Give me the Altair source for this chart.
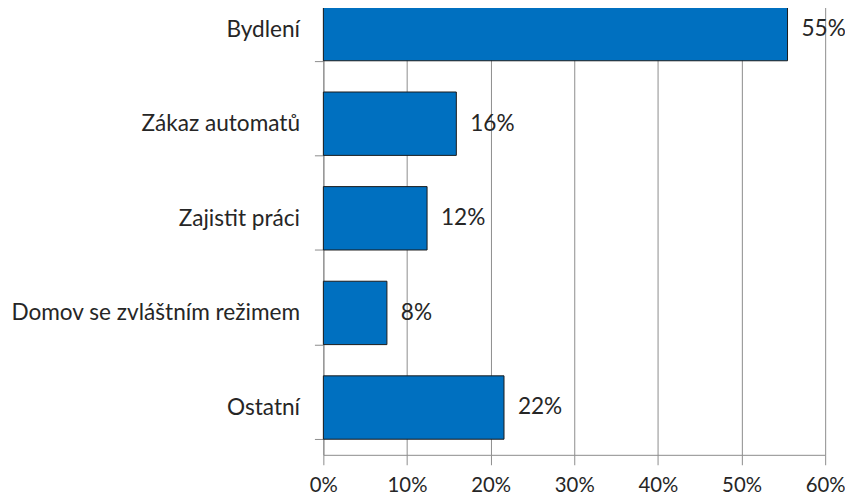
import altair as alt
import pandas as pd

categories = ["Bydlení", "Zákaz automatů", "Zajistit práci", "Domov se zvláštním režimem", "Ostatní"]
values = [55.5, 15.9, 12.4, 7.6, 21.6]
labels = ["55%", "16%", "12%", "8%", "22%"]
x_ticks = [0, 10, 20, 30, 40, 50, 60]

df = pd.DataFrame({"cat": categories, "val": values, "lab": labels})

FONT = "Lato"
TXT = "#262626"
FS = 22.8

y_enc = alt.Y("cat:N", sort=categories, title=None,
              scale=alt.Scale(paddingInner=0.33, paddingOuter=0.165),
              axis=alt.Axis(tickBand="extent", tickSize=9, tickColor="#8c8c8c",
                            domainColor="#8c8c8c", labelPadding=15,
                            labelFont=FONT, labelFontSize=FS, labelColor=TXT,
                            labelFontWeight="normal",
                            grid=False, labelLimit=400))

x_enc = alt.X("val:Q", title=None,
              scale=alt.Scale(domain=[0, 60], nice=False),
              axis=alt.Axis(values=x_ticks, labelExpr="datum.value + '%'",
                            tickSize=10, tickColor="#8c8c8c", domainColor="#8c8c8c",
                            gridColor="#8c8c8c", grid=True, labelPadding=11,
                            labelFont=FONT, labelFontSize=20.5, labelColor=TXT,
                            labelFlush=False))

bars = alt.Chart(df).mark_bar(color="#0070C0", stroke="#1a1a1a", strokeWidth=1).encode(
    x=x_enc, y=y_enc)

text = alt.Chart(df).mark_text(align="left", baseline="middle", dx=14,
                               font=FONT, fontSize=FS, color=TXT).encode(
    x=alt.X("val:Q"), y=alt.Y("cat:N", sort=categories), text="lab:N")

chart = alt.layer(bars, text).properties(
    width=506, height=477,
    padding={"left": 318, "top": -28.5, "right": 20, "bottom": 45},
    autosize=alt.AutoSizeParams(type="none"),
).configure_view(stroke=None)

chart.save("out.html", embed_options={"renderer": "svg", "actions": False})
